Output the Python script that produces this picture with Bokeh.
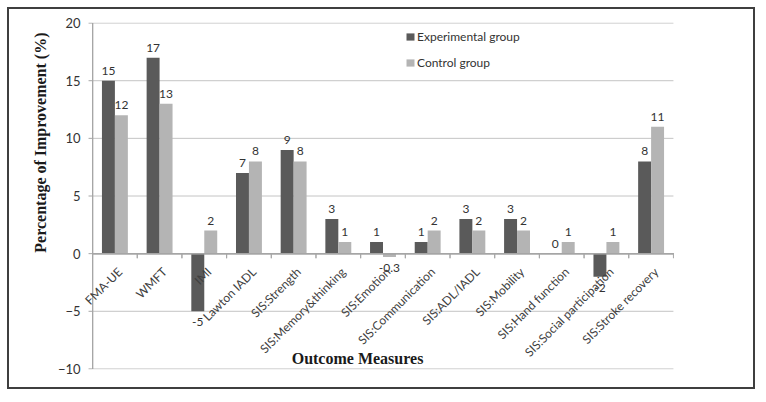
import math
from bokeh.plotting import figure
from bokeh.models import (ColumnDataSource, Range1d, FactorRange, Label, Title,
                          Legend, LegendItem, FixedTicker)
from bokeh.transform import dodge
from bokeh.core.properties import value
from bokeh.embed import file_html
from bokeh.resources import INLINE

categories = ["FMA-UE", "WMFT", "IMI", "Lawton IADL", "SIS:Strength",
              "SIS:Memory&thinking", "SIS:Emotion", "SIS:Communication",
              "SIS:ADL/IADL", "SIS:Mobility", "SIS:Hand function",
              "SIS:Social participation", "SIS:Stroke recovery"]
experimental = [15, 17, -5, 7, 9, 3, 1, 1, 3, 3, 0, -2, 8]
control = [12, 13, 2, 8, 8, 1, -0.3, 2, 2, 2, 1, 1, 11]
series_names = ["Experimental group", "Control group"]
y_ticks = [-10, -5, 0, 5, 10, 15, 20]
x_title = "Outcome Measures"
y_title = "Percentage of Improvement (%)"

DARK = "#5a5a5a"
LIGHT = "#b4b4b4"
AXIS = "#a6a6a6"
GRID = "#c4c4c4"
TXT = "#333333"


def fmt(v):
    return f"{v:g}"


def off(v):
    return -10 if v >= 0 else 11


src = ColumnDataSource(dict(
    cat=categories,
    exp=experimental,
    ctl=control,
    exp_txt=[fmt(v) for v in experimental],
    ctl_txt=[fmt(v) for v in control],
    exp_off=[off(v) for v in experimental],
    ctl_off=[off(v) for v in control],
))

n = len(y_ticks)
grid_src = ColumnDataSource(dict(
    y=y_ticks,
    first=[categories[0]] * n,
    last=[categories[-1]] * n,
))

p = figure(x_range=FactorRange(*categories, range_padding=0.27,
                               range_padding_units="absolute"),
           y_range=Range1d(-10.05, 20.05),
           width=748, height=382, output_backend="svg", toolbar_location=None,
           min_border_left=71, min_border_right=72, min_border_top=13,
           min_border_bottom=22)
p.styles = {"border": "2px solid #3f3f3f", "margin": "7px 0 0 7px"}
p.background_fill_color = "white"
p.border_fill_color = "white"
p.outline_line_color = None

# horizontal gridlines spanning the categories
p.segment(x0=dodge("first", -0.5, range=p.x_range), y0="y",
          x1=dodge("last", 0.5, range=p.x_range), y1="y",
          line_color=GRID, line_width=1, source=grid_src)
# y axis line and ticks
p.segment(x0=dodge("first", -0.5, range=p.x_range), y0=y_ticks[0],
          x1=dodge("first", -0.5, range=p.x_range), y1=y_ticks[-1],
          line_color=AXIS, line_width=1, source=grid_src)
p.segment(x0=dodge("first", -0.5, range=p.x_range), y0="y",
          x1=dodge("first", -0.59, range=p.x_range), y1="y",
          line_color=AXIS, line_width=1, source=grid_src)

W = 0.29
D = 0.145
r1 = p.vbar(x=dodge("cat", -D, range=p.x_range), top="exp", bottom=0, width=W,
            fill_color=DARK, line_color=None, source=src)
r2 = p.vbar(x=dodge("cat", D, range=p.x_range), top="ctl", bottom=0, width=W,
            fill_color=LIGHT, line_color=None, source=src)

# zero axis line and ticks
p.segment(x0=dodge("first", -0.5, range=p.x_range), y0=0,
          x1=dodge("last", 0.5, range=p.x_range), y1=0,
          line_color=AXIS, line_width=1, source=grid_src)
p.segment(x0=dodge("cat", -0.5, range=p.x_range), y0=0,
          x1=dodge("cat", -0.5, range=p.x_range), y1=-0.4,
          line_color=AXIS, line_width=1, source=src)
p.segment(x0=dodge("cat", 0.5, range=p.x_range), y0=0,
          x1=dodge("cat", 0.5, range=p.x_range), y1=-0.4,
          line_color=AXIS, line_width=1, source=src)

# value labels
p.text(x=dodge("cat", -D, range=p.x_range), y="exp", text="exp_txt",
       y_offset="exp_off", text_align="center", text_baseline="middle",
       text_font=value("Lato"), text_font_size="12px", text_color=TXT, source=src)
p.text(x=dodge("cat", D, range=p.x_range), y="ctl", text="ctl_txt",
       y_offset="ctl_off", text_align="center", text_baseline="middle",
       text_font=value("Lato"), text_font_size="12px", text_color=TXT, source=src)

# category labels (rotated)
p.text(x="cat", y=0, text="cat", angle=math.pi / 4, text_align="right",
       text_baseline="middle", x_offset=5, y_offset=16,
       text_font=value("Lato"), text_font_size="12px", text_color="#404040",
       source=src)

p.xaxis.visible = False
p.xgrid.visible = False
p.ygrid.visible = False
p.yaxis.ticker = FixedTicker(ticks=y_ticks)
p.yaxis.axis_line_color = None
p.yaxis.major_tick_line_color = None
p.yaxis.major_tick_out = 0
p.yaxis.major_tick_in = 0
p.yaxis.minor_tick_line_color = None
p.yaxis.major_label_text_font = "Lato"
p.yaxis.major_label_text_font_size = "13px"
p.yaxis.major_label_text_color = TXT
p.yaxis.major_label_standoff = 0

legend = Legend(items=[LegendItem(label=series_names[0], renderers=[r1]),
                       LegendItem(label=series_names[1], renderers=[r2])],
                location=(325, 299), orientation="vertical",
                glyph_width=10, glyph_height=9, label_height=14, spacing=11,
                label_standoff=2, padding=0, margin=0,
                label_text_font="Lato", label_text_font_size="12px",
                label_text_color=TXT, border_line_color=None,
                background_fill_alpha=0)
p.add_layout(legend)

p.add_layout(Title(text=y_title, align="right", offset=10,
                   vertical_align="middle",
                   text_font="Liberation Serif", text_font_style="bold",
                   text_font_size="16px", text_color="#1a1a1a"), "left")
p.add_layout(Label(x=5.93, y=-9.1, text=x_title,
                   text_align="center", text_baseline="middle",
                   text_font="Liberation Serif", text_font_style="bold",
                   text_font_size="16px", text_color="#1a1a1a"))

open("out.html", "w").write(file_html(p, INLINE))
